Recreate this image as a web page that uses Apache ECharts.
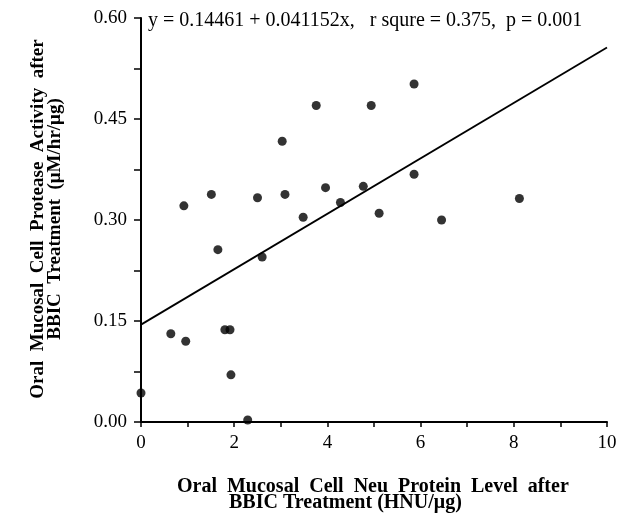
<!DOCTYPE html>
<html>
<head>
<meta charset="utf-8">
<script src="https://cdn.jsdelivr.net/npm/echarts@6/dist/echarts.min.js"></script>
<style>
html,body{margin:0;padding:0;background:#fff;}
#chart{width:618px;height:515px;}
</style>
</head>
<body>
<div id="chart"></div>
<script>
// Data
const neuLevel = [0, 0.64, 0.92, 0.96, 1.51, 1.65, 1.80, 1.91, 1.93, 2.29, 2.50, 2.60, 3.03, 3.09, 3.48, 3.76, 3.96, 4.28, 4.77, 4.94, 5.11, 5.86, 5.86, 6.45, 8.12];
const proteaseActivity = [0.043, 0.131, 0.321, 0.120, 0.338, 0.256, 0.137, 0.137, 0.070, 0.003, 0.333, 0.245, 0.417, 0.338, 0.304, 0.470, 0.348, 0.326, 0.350, 0.470, 0.310, 0.502, 0.368, 0.300, 0.332];
const intercept = 0.14461;
const slope = 0.041152;
const fitX = [0, 10];
const xTicks = [0, 2, 4, 6, 8, 10];
const yTicks = [0.00, 0.15, 0.30, 0.45, 0.60];
const equationText = 'y = 0.14461 + 0.041152x,   r squre = 0.375,  p = 0.001';
const xTitle1 = 'Oral  Mucosal  Cell  Neu  Protein  Level  after';
const xTitle2 = 'BBIC Treatment (HNU/\u03bcg)';
const yTitle1 = 'Oral  Mucosal  Cell  Protease  Activity  after';
const yTitle2 = 'BBIC  Treatment  (\u03bcM/hr/\u03bcg)';

const points = neuLevel.map((x, i) => [x, proteaseActivity[i]]);
const fitLine = fitX.map(x => [x, intercept + slope * x]);

const serif = "'Liberation Serif', 'Times New Roman', 'DejaVu Serif', serif";
const chart = echarts.init(document.getElementById('chart'), null, {renderer: 'canvas'});
chart.setOption({
  backgroundColor: '#fff',
  animation: false,
  grid: {left: 141, right: 11, top: 18, bottom: 93, containLabel: false, outerBoundsMode: 'none'},
  xAxis: {
    type: 'value', min: xTicks[0], max: xTicks[xTicks.length - 1], interval: 2,
    axisLine: {show: true, onZero: false, lineStyle: {color: '#000', width: 2}},
    axisTick: {show: true, length: 5, lineStyle: {color: '#000', width: 1.5}},
    minorTick: {show: true, splitNumber: 2, length: 5, lineStyle: {color: '#000', width: 1.5}},
    splitLine: {show: false},
    axisLabel: {color: '#000', fontFamily: serif, fontSize: 19, margin: 12, formatter: v => String(v)}
  },
  yAxis: {
    type: 'value', min: yTicks[0], max: yTicks[yTicks.length - 1], interval: 0.15,
    axisLine: {show: true, onZero: false, lineStyle: {color: '#000', width: 2}},
    axisTick: {show: true, length: 7, lineStyle: {color: '#000', width: 1.5}},
    minorTick: {show: true, splitNumber: 2, length: 7, lineStyle: {color: '#000', width: 1.5}},
    splitLine: {show: false},
    axisLabel: {color: '#000', fontFamily: serif, fontSize: 19, margin: 14, formatter: v => v.toFixed(2)}
  },
  series: [
    {
      type: 'line', data: fitLine, showSymbol: false, symbol: 'none',
      lineStyle: {color: '#000', width: 1.8}, z: 2, silent: true
    },
    {
      type: 'scatter', data: points, symbol: 'circle', symbolSize: 9,
      itemStyle: {color: '#000'}, z: 3
    }
  ],
  graphic: [
    {type: 'text', x: 148, y: 21, style: {text: equationText, font: '20px ' + serif, fill: '#000', textAlign: 'left', textVerticalAlign: 'middle'}},
    {type: 'text', x: 177, y: 487, style: {text: xTitle1, font: 'bold 20px ' + serif, fill: '#000', textAlign: 'left', textVerticalAlign: 'middle'}},
    {type: 'text', x: 229, y: 503, style: {text: xTitle2, font: 'bold 20px ' + serif, fill: '#000', textAlign: 'left', textVerticalAlign: 'middle'}},
    {type: 'text', x: 38, y: 219, rotation: Math.PI / 2, style: {text: yTitle1, font: 'bold 19px ' + serif, fill: '#000', textAlign: 'center', textVerticalAlign: 'middle'}},
    {type: 'text', x: 55, y: 219, rotation: Math.PI / 2, style: {text: yTitle2, font: 'bold 19px ' + serif, fill: '#000', textAlign: 'center', textVerticalAlign: 'middle'}}
  ]
});
</script>
</body>
</html>
